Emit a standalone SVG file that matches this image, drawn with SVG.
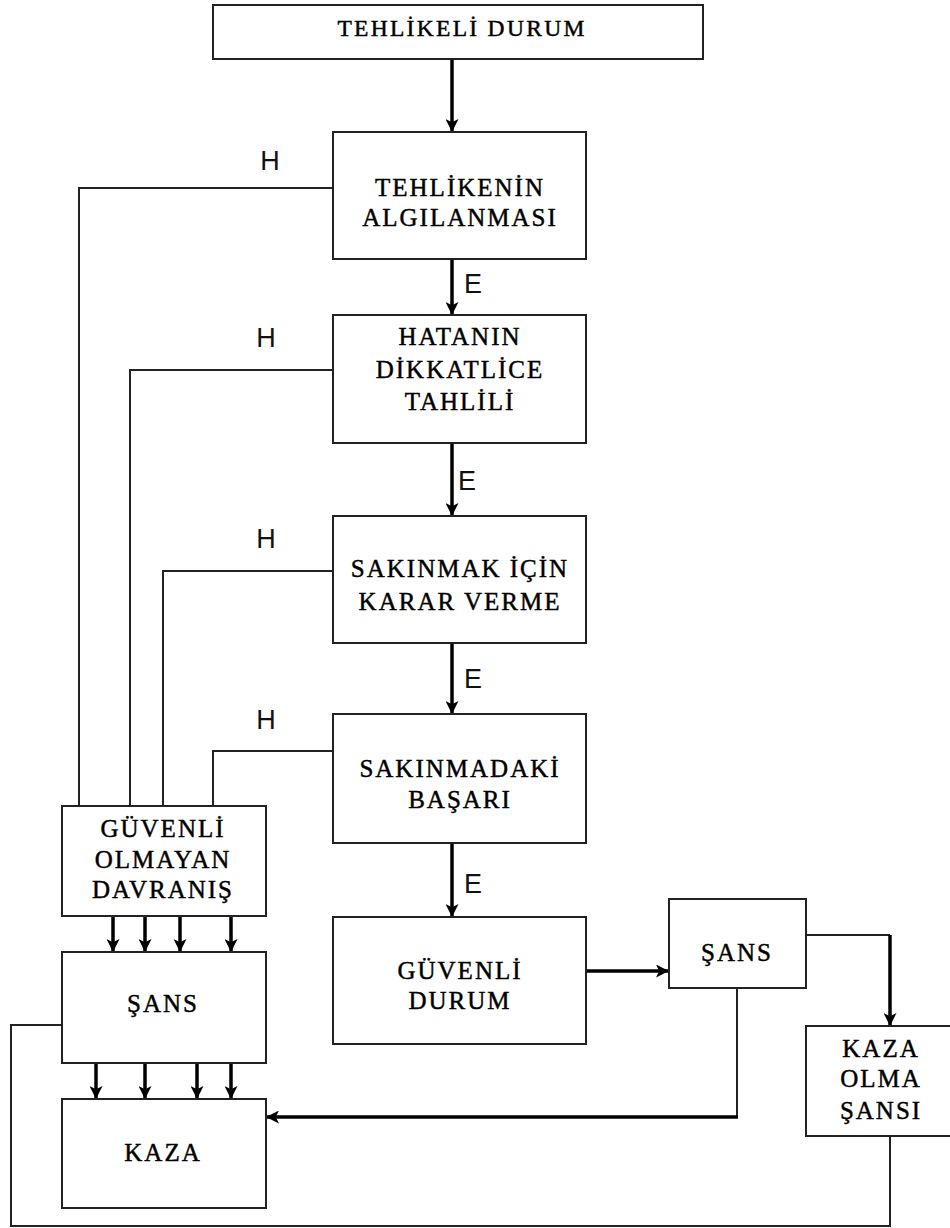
<svg xmlns="http://www.w3.org/2000/svg" width="950" height="1228" viewBox="0 0 950 1228">
<defs>
<marker id="ah" viewBox="0 0 12 12" refX="12" refY="6" markerWidth="13" markerHeight="13" markerUnits="userSpaceOnUse" orient="auto">
<path d="M0,0 L12,6 L0,12 L3,6 Z" fill="#000"/>
</marker>
</defs>
<style>
.box{fill:#fff;stroke:#222;stroke-width:2}
.t{font-family:"Liberation Serif","Times New Roman",serif;font-size:25px;letter-spacing:2px;fill:#000;stroke:#000;stroke-width:0.45;text-anchor:middle}
.tt{font-size:23.5px;letter-spacing:2.3px}
.lb{font-family:"Liberation Sans",Arial,sans-serif;font-size:27px;fill:#111;text-anchor:middle}
.thin{fill:none;stroke:#222;stroke-width:2}
.thick{fill:none;stroke:#000;stroke-width:3.5;marker-end:url(#ah)}
</style>
<rect width="950" height="1228" fill="#fff"/>
<g id="connectors">
<line class="thick" x1="452" y1="59" x2="452" y2="132"/>
<line class="thick" x1="452" y1="259" x2="452" y2="315"/>
<line class="thick" x1="452" y1="443" x2="452" y2="516"/>
<line class="thick" x1="452" y1="643" x2="452" y2="714"/>
<line class="thick" x1="452" y1="843" x2="452" y2="917"/>
<polyline class="thin" points="333,188 79,188 79,806"/>
<polyline class="thin" points="333,370 130,370 130,806"/>
<polyline class="thin" points="333,571 163,571 163,806"/>
<polyline class="thin" points="333,751 213,751 213,806"/>
<line class="thick" x1="113" y1="916" x2="113" y2="952"/>
<line class="thick" x1="145" y1="916" x2="145" y2="952"/>
<line class="thick" x1="180" y1="916" x2="180" y2="952"/>
<line class="thick" x1="231" y1="916" x2="231" y2="952"/>
<line class="thick" x1="96" y1="1063" x2="96" y2="1099"/>
<line class="thick" x1="145" y1="1063" x2="145" y2="1099"/>
<line class="thick" x1="197" y1="1063" x2="197" y2="1099"/>
<line class="thick" x1="231" y1="1063" x2="231" y2="1099"/>
<line class="thick" x1="583" y1="971" x2="669" y2="971"/>
<polyline class="thin" points="806,935 890,935"/>
<line class="thick" x1="890" y1="935" x2="890" y2="1026"/>
<polyline class="thin" points="737,988 737,1117"/>
<line class="thick" x1="738" y1="1117" x2="266" y2="1117"/>
<polyline class="thin" points="62,1025 11,1025 11,1226 890,1226 890,1136"/>
<text class="lb" x="270" y="170">H</text>
<text class="lb" x="266" y="347">H</text>
<text class="lb" x="266" y="548">H</text>
<text class="lb" x="266" y="729">H</text>
<text class="lb" x="473" y="293">E</text>
<text class="lb" x="467" y="490">E</text>
<text class="lb" x="473" y="688">E</text>
<text class="lb" x="473" y="893">E</text>
</g>
<g id="n-tehlikeli-durum">
<rect class="box" x="213" y="5" width="490" height="54"/>
<text class="t tt" x="462" y="36">TEHLİKELİ DURUM</text>
</g>
<g id="n-algilanma">
<rect class="box" x="333" y="132" width="253" height="127"/>
<text class="t" x="460" y="196">TEHLİKENİN</text>
<text class="t" x="460" y="226">ALGILANMASI</text>
</g>
<g id="n-tahlil">
<rect class="box" x="333" y="315" width="253" height="128"/>
<text class="t" x="460" y="345">HATANIN</text>
<text class="t" x="460" y="378">DİKKATLİCE</text>
<text class="t" x="460" y="410">TAHLİLİ</text>
</g>
<g id="n-karar">
<rect class="box" x="333" y="516" width="253" height="127"/>
<text class="t" x="460" y="577">SAKINMAK İÇİN</text>
<text class="t" x="460" y="610">KARAR VERME</text>
</g>
<g id="n-basari">
<rect class="box" x="333" y="714" width="253" height="129"/>
<text class="t" x="460" y="777">SAKINMADAKİ</text>
<text class="t" x="460" y="808">BAŞARI</text>
</g>
<g id="n-guvenli-durum">
<rect class="box" x="333" y="917" width="253" height="127"/>
<text class="t" x="460" y="979">GÜVENLİ</text>
<text class="t" x="460" y="1009">DURUM</text>
</g>
<g id="n-guvensiz">
<rect class="box" x="62" y="806" width="204" height="110"/>
<text class="t" x="163" y="837">GÜVENLİ</text>
<text class="t" x="163" y="868">OLMAYAN</text>
<text class="t" x="163" y="898">DAVRANIŞ</text>
</g>
<g id="n-sans-left">
<rect class="box" x="62" y="952" width="204" height="111"/>
<text class="t" x="163" y="1012">ŞANS</text>
</g>
<g id="n-kaza">
<rect class="box" x="62" y="1099" width="204" height="109"/>
<text class="t" x="163" y="1161">KAZA</text>
</g>
<g id="n-sans-right">
<rect class="box" x="669" y="899" width="137" height="89"/>
<text class="t" x="737" y="961">ŞANS</text>
</g>
<g id="n-kaza-olma">
<rect class="box" x="806" y="1026" width="150" height="110"/>
<text class="t" x="881" y="1057">KAZA</text>
<text class="t" x="881" y="1087">OLMA</text>
<text class="t" x="881" y="1119">ŞANSI</text>
</g>
</svg>
